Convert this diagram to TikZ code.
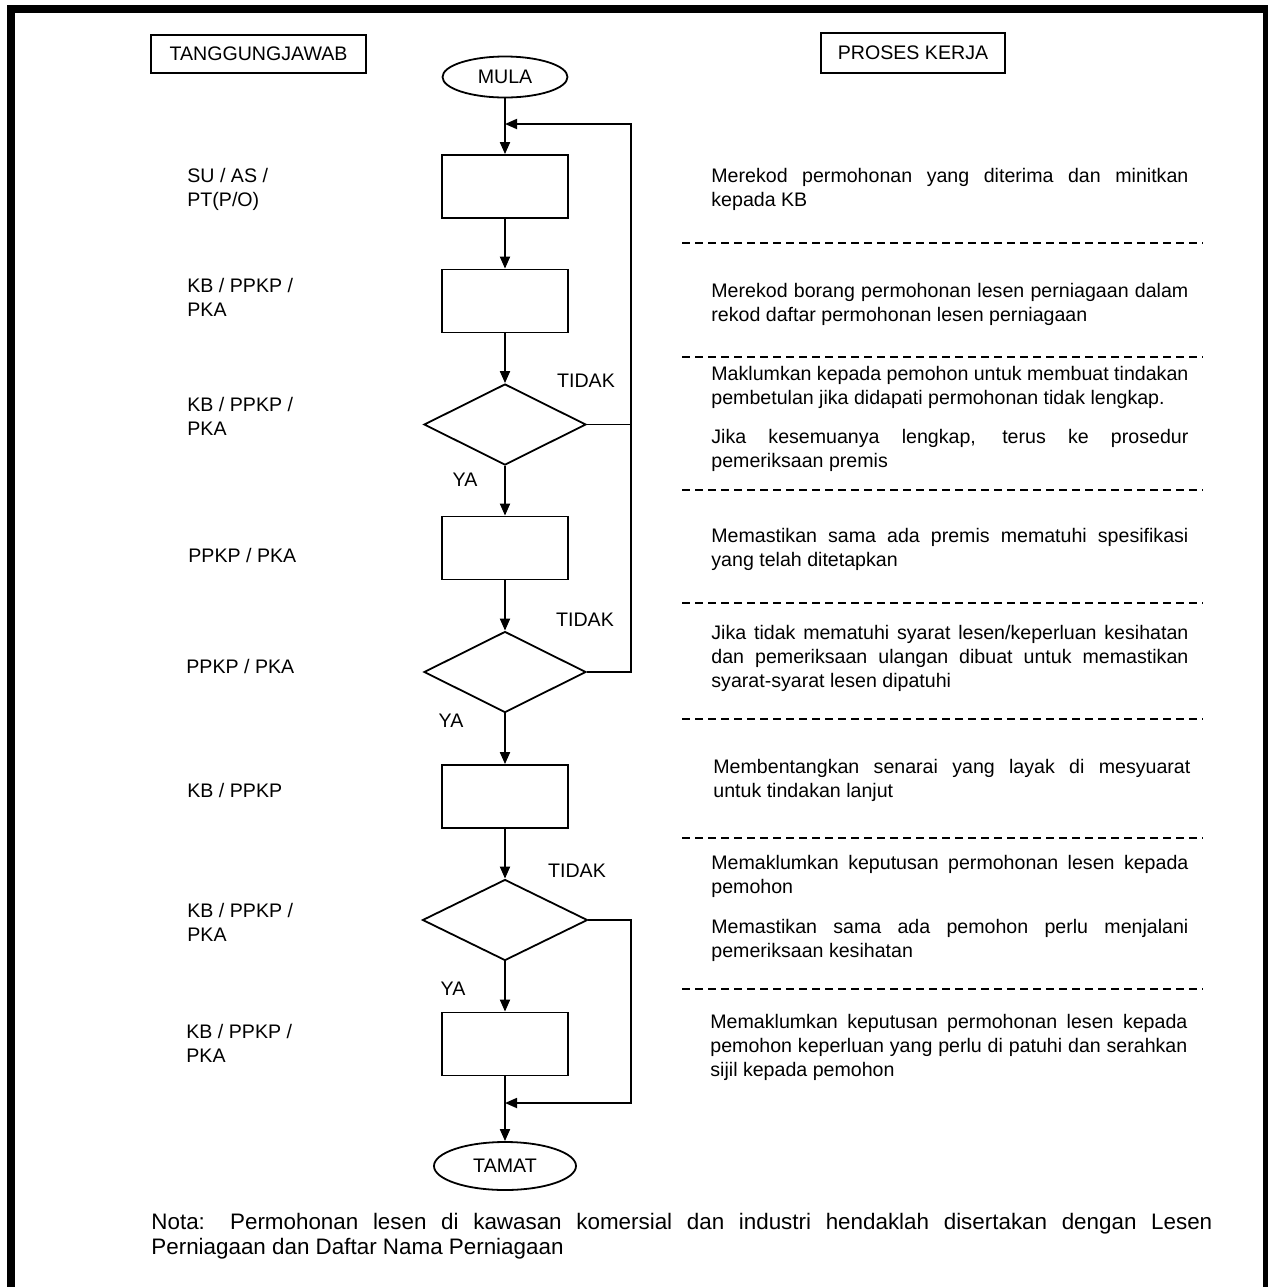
\documentclass[tikz,border=0pt]{standalone}
\usepackage{fontspec}
\setmainfont{Liberation Sans}
\usetikzlibrary{shapes.geometric,arrows.meta}

\newcommand{\rata}[1]{\makebox[238.5pt][s]{#1}}
\newcommand{\ratanota}[1]{\makebox[530.5pt][s]{#1}}

\tikzset{
  kotak/.style={rectangle, draw, line width=0.9pt, minimum width=63pt, minimum height=31.5pt, inner sep=0pt},
  putusan/.style={diamond, draw, line width=0.9pt, minimum width=81pt, minimum height=40.5pt, inner sep=0pt},
  hujung/.style={ellipse, draw, line width=0.9pt, inner sep=0pt},
  tajuk/.style={rectangle, draw, line width=0.8pt, inner sep=0pt},
  panah/.style={-{Triangle[length=6pt,width=5pt]}, line width=0.9pt},
  teks/.style={anchor=north west, align=left, inner sep=0pt},
  pemisah/.style={dash pattern=on 4pt off 2.5pt, line width=0.7pt},
}

\begin{document}
\begin{tikzpicture}[x=0.5pt, y=-0.5pt, font=\fontsize{9.8}{12}\selectfont]
    \useasboundingbox (0,0) rectangle (1268,1287);
    % Bingkai
    \draw[line width=4pt] (11,1287) -- (11,8.5) -- (1267,8.5) -- (1267,1287);

    % Tajuk
    \node[tajuk, minimum width=107.5pt, minimum height=19pt] (tanggung) at (258.5,54) {TANGGUNGJAWAB};
    \node[tajuk, minimum width=92pt, minimum height=20pt] (proses) at (913,53) {PROSES KERJA};

    % Nodi carta alir
    \node[hujung, minimum width=62.5pt, minimum height=20.5pt] (mula) at (505,77) {MULA};
    \node[kotak] (b1) at (505,186.5) {};
    \node[kotak] (b2) at (505,301) {};
    \node[putusan] (d1) at (505,424.5) {};
    \node[kotak] (b3) at (505,548) {};
    \node[putusan] (d2) at (505,672) {};
    \node[kotak] (b4) at (505,796.5) {};
    \node[putusan, minimum width=82.5pt] (d3) at (505,920) {};
    \node[kotak] (b5) at (505,1044) {};
    \node[hujung, minimum width=71pt, minimum height=24pt] (tamat) at (505,1166) {TAMAT};

    \coordinate (atas) at (631,124);
    \coordinate (masuk1) at (505,124);
    \coordinate (bawah) at (631,1103);
    \coordinate (masuk2) at (505,1103);

    % Anak panah
    \draw[panah] (mula) -- (b1);
    \draw[panah] (b1) -- (b2);
    \draw[panah] (b2) -- (d1);
    \draw[panah] (d1) -- (b3);
    \draw[panah] (b3) -- (d2);
    \draw[panah] (d2) -- (b4);
    \draw[panah] (b4) -- (d3);
    \draw[panah] (d3) -- (b5);
    \draw[panah] (b5) -- (tamat);
    \draw[line width=0.9pt] (d1.east) -- (d1.east -| atas);
    \draw[panah] (d2.east) -- (d2.east -| atas) -- (atas) -- (masuk1);
    \draw[panah] (d3.east) -| (bawah) -- (masuk2);

    % Label TIDAK / YA
    \node (tidak1) at (586,381) {TIDAK};
    \node (ya1) at (465,480) {YA};
    \node (tidak2) at (585,620) {TIDAK};
    \node (ya2) at (451,721) {YA};
    \node (tidak3) at (577,871) {TIDAK};
    \node (ya3) at (453,989) {YA};

    % Tanggungjawab
    \node[teks] (t1) at (187,168) {SU / AS /\\PT(P/O)};
    \node[teks] (t2) at (187,278) {KB / PPKP /\\PKA};
    \node[teks] (t3) at (187,397) {KB / PPKP /\\PKA};
    \node[teks] (t4) at (188,548) {PPKP / PKA};
    \node[teks] (t5) at (186,659) {PPKP / PKA};
    \node[teks] (t6) at (187,783) {KB / PPKP};
    \node[teks] (t7) at (187,903) {KB / PPKP /\\PKA};
    \node[teks] (t8) at (186,1024) {KB / PPKP /\\PKA};

    % Proses kerja
    \node[teks] (p1) at (711,168) {\rata{Merekod permohonan yang diterima dan minitkan}\\kepada KB};
    \node[teks] (p2) at (711,283) {\rata{Merekod borang permohonan lesen perniagaan dalam}\\rekod daftar permohonan lesen perniagaan};
    \node[teks] (p3) at (711,366) {\rata{Maklumkan kepada pemohon untuk membuat tindakan}\\pembetulan jika didapati permohonan tidak lengkap.\\[7.5pt]\rata{Jika kesemuanya lengkap, terus ke prosedur}\\pemeriksaan premis};
    \node[teks] (p4) at (711,528) {\rata{Memastikan sama ada premis mematuhi spesifikasi}\\yang telah ditetapkan};
    \node[teks] (p5) at (711,625) {\rata{Jika tidak mematuhi syarat lesen/keperluan kesihatan}\\\rata{dan pemeriksaan ulangan dibuat untuk memastikan}\\syarat-syarat lesen dipatuhi};
    \node[teks] (p6) at (713,759) {\rata{Membentangkan senarai yang layak di mesyuarat}\\untuk tindakan lanjut};
    \node[teks] (p7) at (711,855) {\rata{Memaklumkan keputusan permohonan lesen kepada}\\pemohon\\[8pt]\rata{Memastikan sama ada pemohon perlu menjalani}\\pemeriksaan kesihatan};
    \node[teks] (p8) at (710,1014) {\rata{Memaklumkan keputusan permohonan lesen kepada}\\\rata{pemohon keperluan yang perlu di patuhi dan serahkan}\\sijil kepada pemohon};

    % Garis pemisah
    \foreach \y in {243,357,490,603,719,838,989}
        \draw[pemisah] (682,\y) -- (1203,\y);

    % Nota
    \node[teks, font=\fontsize{11.2}{12.6}\selectfont] (nota) at (151,1213) {\ratanota{Nota: Permohonan lesen di kawasan komersial dan industri hendaklah disertakan dengan Lesen}\\Perniagaan dan Daftar Nama Perniagaan};
\end{tikzpicture}
\end{document}
